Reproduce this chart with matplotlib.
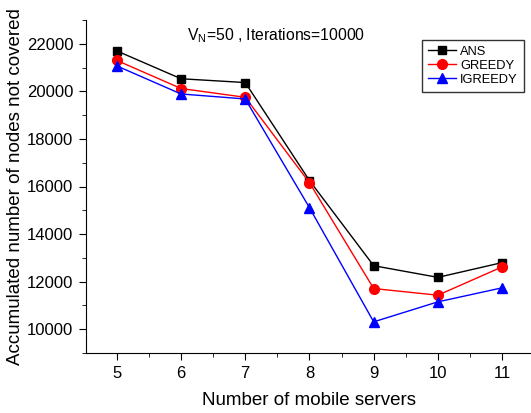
import matplotlib
matplotlib.use("Agg")
import matplotlib.pyplot as plt
from matplotlib.ticker import MultipleLocator

plt.rcParams['font.family'] = ['Liberation Sans', 'DejaVu Sans']
plt.rcParams['mathtext.fontset'] = 'custom'
plt.rcParams['mathtext.rm'] = 'Liberation Sans'

servers = [5, 6, 7, 8, 9, 10, 11]
ans = [21700, 20530, 20370, 16250, 12670, 12180, 12800]
greedy = [21300, 20120, 19750, 16160, 11710, 11430, 12620]
igreedy = [21070, 19890, 19680, 15110, 10310, 11150, 11740]

fig = plt.figure(figsize=(5.31, 4.13), dpi=100)
ax = fig.add_axes([86/531, 1-353/413, 1-86/531, (353-20)/413])

ax.plot(servers, ans, color='black', marker='s', markersize=6, lw=1, label='ANS')
ax.plot(servers, greedy, color='red', marker='o', markersize=7, lw=1, label='GREEDY')
ax.plot(servers, igreedy, color='blue', marker='^', markersize=7, lw=1, label='IGREEDY')

ax.set_xlim(4.52, 11.45)
ax.set_ylim(9000, 23000)
ax.xaxis.set_major_locator(MultipleLocator(1))
ax.xaxis.set_minor_locator(MultipleLocator(0.5))
ax.yaxis.set_major_locator(MultipleLocator(2000))
ax.yaxis.set_minor_locator(MultipleLocator(1000))
ax.spines['top'].set_visible(False)
ax.spines['right'].set_visible(False)
ax.tick_params(which='major', direction='out', length=5, labelsize=12, pad=4)
ax.tick_params(which='minor', direction='out', length=3)

ax.set_xlabel('Number of mobile servers', fontsize=13.5, labelpad=8)
ax.set_ylabel('Accumulated number of nodes not covered', fontsize=13.5, labelpad=2)

fig.text(187/531, 1-36/413, r'V$_{\mathrm{N}}$=50 , Iterations=10000', fontsize=11.3,
         va='center', ha='left')
leg = ax.legend(loc='upper left', bbox_to_anchor=(422/531, 1-40/413), bbox_transform=fig.transFigure,
                fancybox=False, edgecolor='black', fontsize=9.3, handlelength=2.2,
                borderpad=0.45, labelspacing=0.15, handletextpad=0.3, borderaxespad=0)
leg.get_frame().set_linewidth(1.0)

fig.savefig('out.png', dpi=100)
